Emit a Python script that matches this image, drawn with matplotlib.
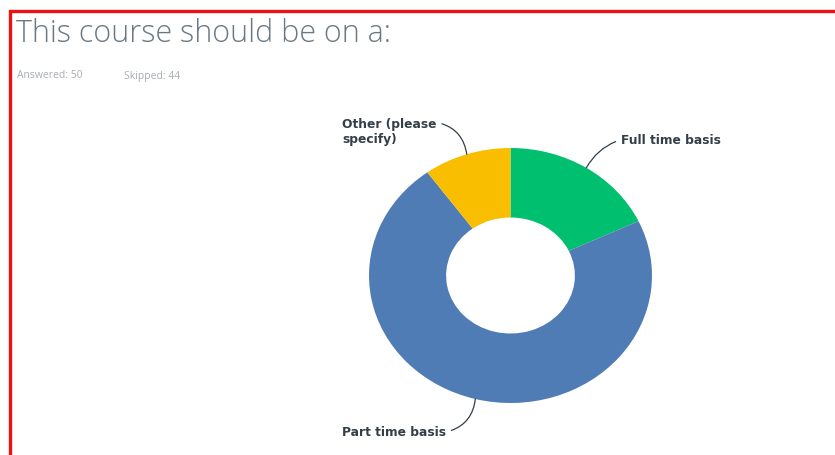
import numpy as np
import matplotlib.pyplot as plt
from matplotlib.patches import Rectangle

plt.rcParams['font.family'] = ['Open Sans', 'DejaVu Sans']

# survey answers (count of respondents)
labels = ['Full time basis', 'Part time basis', 'Other (please\nspecify)']
counts = [9, 36, 5]
colors = ['#00bf6f', '#507cb6', '#f9be00']
answered = 50
skipped = 44

W, H = 835, 455
fig = plt.figure(figsize=(W / 100, H / 100), dpi=100)
fig.patch.set_facecolor('white')

# pie centre and radii in pixels (the donut is drawn a little wider than tall)
cx, cy, rx, ry = 510.5, 275.5, 141.5, 127.5
ax = fig.add_axes([0, 0, 1, 1])
wedges, _ = ax.pie(counts, colors=colors, startangle=90, counterclock=False,
                   wedgeprops=dict(width=0.545, linewidth=0))
ax.set_aspect('auto')
ax.set_xlim(-cx / rx, (W - cx) / rx)
ax.set_ylim((cy - H) / ry, cy / ry)
ax.axis('off')

# label positions (figure pixels) and leader line settings
text_pos = [(621, 141), (342, 432), (342, 132)]
relpos = [(0, 0.6), (1, 0.5), (1, 0.85)]
rads = [0.2, 0.35, -0.35]

for w, lab, (tx, ty), rp, rad in zip(wedges, labels, text_pos, relpos, rads):
    mid = np.deg2rad((w.theta1 + w.theta2) / 2)
    ax.annotate(lab, xy=(np.cos(mid), np.sin(mid)),
                xytext=(tx / W, 1 - ty / H), textcoords='figure fraction',
                ha='left', va='center', fontsize=8.8, fontweight='bold',
                family='DejaVu Sans', color='#333e48', linespacing=1.15,
                arrowprops=dict(arrowstyle='-', color='#333e48', lw=0.9,
                                relpos=rp, shrinkA=2, shrinkB=0,
                                connectionstyle='arc3,rad=%s' % rad))

# header
fig.text(16 / W, 1 - 34 / H, 'This course should be on a:', fontsize=22,
         color='#6b7884', va='center', ha='left', fontweight='light')
fig.text(17 / W, 1 - 76 / H, 'Answered: %d' % answered, fontsize=7.5,
         color='#a8adb2', va='center', ha='left')
fig.text(124 / W, 1 - 76 / H, 'Skipped: %d' % skipped, fontsize=7.5,
         color='#a8adb2', va='center', ha='left')

# red frame along the top and left edges
fig.add_artist(Rectangle((10 / W, -0.05), 1.0, 1 - 11 / H + 0.05,
                         transform=fig.transFigure, fill=False,
                         edgecolor='#ee1111', linewidth=2.4, clip_on=False))

fig.savefig('out.png', dpi=100, facecolor='white')
